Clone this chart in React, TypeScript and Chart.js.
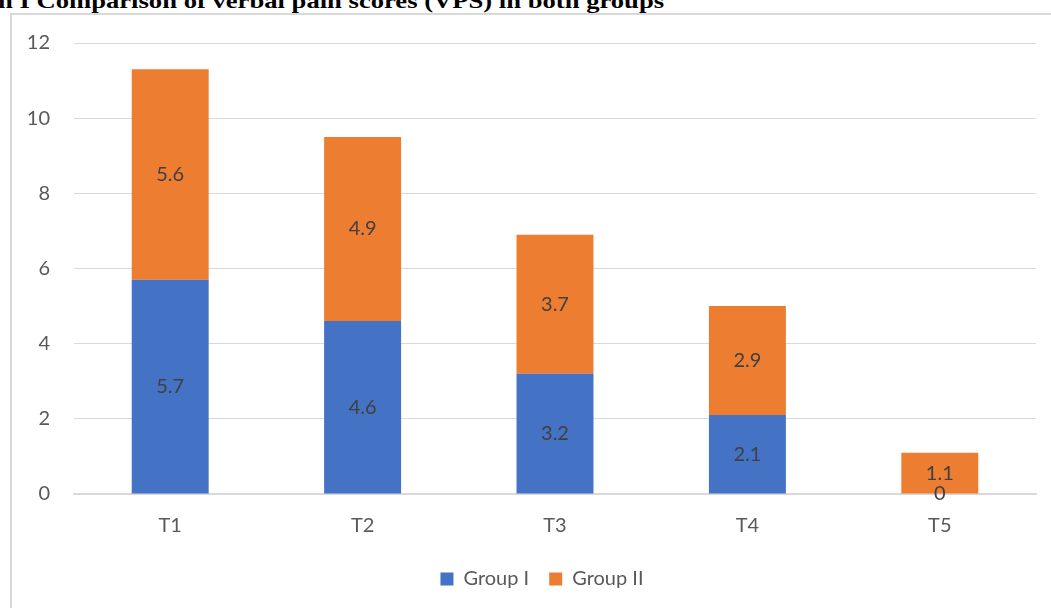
import React, { useEffect, useRef } from "react";
import { Chart, registerables } from "chart.js";

Chart.register(...registerables);

const categories: string[] = ["T1", "T2", "T3", "T4", "T5"];
const groupI: number[] = [5.7, 4.6, 3.2, 2.1, 0];
const groupII: number[] = [5.6, 4.9, 3.7, 2.9, 1.1];
const seriesNames: string[] = ["Group I", "Group II"];
const titleText = "h I Comparison of verbal pain scores (VPS) in both groups";

const FONT = "Lato, 'Open Sans', sans-serif";

const barLabels = {
  id: "barLabels",
  afterDatasetsDraw(chart: any) {
    const ctx = chart.ctx;
    ctx.save();
    ctx.font = `20px ${FONT}`;
    ctx.fillStyle = "#404040";
    ctx.textAlign = "center";
    ctx.textBaseline = "middle";
    chart.data.datasets.forEach((ds: any, di: number) => {
      const meta = chart.getDatasetMeta(di);
      meta.data.forEach((el: any, i: number) => {
        const v = ds.data[i];
        const y = (el.y + el.base) / 2;
        ctx.fillText(String(v), el.x, y);
      });
    });
    ctx.restore();
  },
};

// centre the legend on the outer chart frame rather than the canvas box
const legendShift = {
  id: "legendShift",
  afterLayout(chart: any) {
    const lg = chart.legend;
    if (lg) {
      lg.left += 14;
      lg.right += 14;
    }
  },
};

export default function App() {
  const ref = useRef<HTMLCanvasElement | null>(null);
  useEffect(() => {
    if (!ref.current) return;
    const chart = new Chart(ref.current, {
      type: "bar",
      data: {
        labels: categories,
        datasets: [
          {
            label: seriesNames[0],
            data: groupI,
            backgroundColor: "#4472C4",
            barPercentage: 0.4,
            categoryPercentage: 1,
          },
          {
            label: seriesNames[1],
            data: groupII,
            backgroundColor: "#ED7D31",
            barPercentage: 0.4,
            categoryPercentage: 1,
          },
        ],
      },
      options: {
        responsive: false,
        animation: false,
        layout: { padding: { top: 43, right: 15, left: 20, bottom: 9 } },
        plugins: {
          legend: {
            position: "bottom",
            labels: {
              font: { family: FONT, size: 20 },
              color: "#595959",
              boxWidth: 13,
              boxHeight: 13,
              padding: 20,
            },
          },
          tooltip: { enabled: false },
        },
        scales: {
          x: {
            stacked: true,
            grid: { display: false, drawTicks: false },
            border: { display: true, color: "#d9d9d9", width: 2 },
            ticks: { font: { family: FONT, size: 20 }, color: "#595959", padding: 20 },
            afterFit: (scale: any) => {
              scale.height = 55;
            },
          },
          y: {
            stacked: true,
            min: 0,
            max: 12,
            ticks: { stepSize: 2, font: { family: FONT, size: 20 }, color: "#595959", padding: 24 },
            grid: { color: "#d9d9d9", drawTicks: false },
            border: { display: false },
            afterFit: (scale: any) => {
              scale.width = 54;
            },
          },
        },
      },
      plugins: [barLabels, legendShift],
    });
    return () => chart.destroy();
  }, []);

  return (
    <div style={{ position: "absolute", left: 0, top: 0, width: 1051, height: 608, overflow: "hidden", background: "#fff" }}>
      <div
        style={{
          position: "absolute",
          left: -2,
          top: -10.5,
          fontFamily: "'Liberation Serif', 'Times New Roman', serif",
          fontWeight: "bold",
          fontSize: 22,
          lineHeight: 1,
          whiteSpace: "nowrap",
          color: "#000",
          transform: "scaleX(1.21)",
          transformOrigin: "left top",
        }}
      >
        {titleText}
      </div>
      <div
        style={{
          position: "absolute",
          left: 10,
          top: 13,
          right: 0,
          bottom: 0,
          borderLeft: "2px solid #d9d9d9",
          borderTop: "2px solid #d9d9d9",
        }}
      />
      <canvas ref={ref} width={1051} height={608} style={{ position: "absolute", left: 0, top: 0 }} />
    </div>
  );
}
